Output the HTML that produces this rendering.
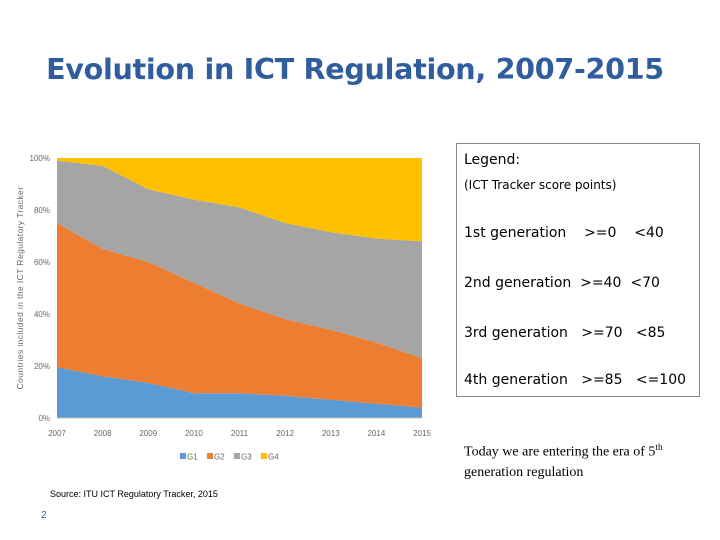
<!DOCTYPE html>
<html><head><meta charset="utf-8"><style>
body{margin:0;width:720px;height:540px;background:#fff;position:relative;overflow:hidden;font-family:"Liberation Sans",sans-serif}
.t{position:absolute;white-space:nowrap}
</style></head><body>
<div class="t" style="left:0;width:710px;text-align:center;top:52px;font-size:28.6px;font-weight:bold;color:#2f5d9e;font-family:'DejaVu Sans',sans-serif;letter-spacing:-0.3px">Evolution in ICT Regulation, 2007-2015</div>
<svg id="ch" width="720" height="540" style="position:absolute;left:0;top:0"></svg>
<div style="position:absolute;left:456px;top:143px;width:244px;height:254px;border:1px solid #8a8a8a;box-sizing:border-box;font-family:'DejaVu Sans',sans-serif;color:#000">
<div class="t" style="left:7px;top:8px;font-size:14px">Legend:</div>
<div class="t" style="left:7px;top:34px;font-size:12px">(ICT Tracker score points)</div>
<div class="t" style="left:7px;top:81px;font-size:14px">1st generation&nbsp;&nbsp;&nbsp;&nbsp;&gt;=0&nbsp;&nbsp;&nbsp;&nbsp;&lt;40</div>
<div class="t" style="left:7px;top:131px;font-size:14px">2nd generation&nbsp;&nbsp;&gt;=40&nbsp;&nbsp;&lt;70</div>
<div class="t" style="left:7px;top:181px;font-size:14px">3rd generation&nbsp;&nbsp;&nbsp;&gt;=70&nbsp;&nbsp;&nbsp;&lt;85</div>
<div class="t" style="left:7px;top:228px;font-size:14px">4th generation&nbsp;&nbsp;&nbsp;&gt;=85&nbsp;&nbsp;&nbsp;&lt;=100</div>
</div>
<div class="t" style="left:464px;top:437px;font-size:14px;font-family:'Liberation Serif',serif;line-height:20px">Today we are entering the era of 5<sup style="font-size:9px">th</sup><br>generation regulation</div>
<div class="t" style="left:50px;top:489px;font-size:9px">Source: ITU ICT Regulatory Tracker, 2015</div>
<div class="t" style="left:41px;top:510px;font-size:10px;color:#2f5d9e">2</div>
<script>
const years=[2007,2008,2009,2010,2011,2012,2013,2014,2015];
const g1=[19.5,16,13.5,9.5,9.5,8.5,7,5.5,4];
const g2=[55.5,49,46.5,42.5,34.5,29.5,27,23.5,19];
const g3=[24,32,28,32,37,37,37.5,40,45];
const g4=[1,3,12,16,19,25,28.5,31,32];
const seriesNames=["G1","G2","G3","G4"];
const colors=["#5b9bd5","#ed7d31","#a5a5a5","#ffc000"];
const yTicks=[0,20,40,60,80,100];
const svg=document.getElementById('ch');const NS='http://www.w3.org/2000/svg';
const X0=57,X1=422,Y0=418,Y1=158;
const xs=i=>X0+(X1-X0)*i/(years.length-1);
const ys=v=>Y0-(Y0-Y1)*v/100;
function mk(t,a){const e=document.createElementNS(NS,t);for(const k in a)e.setAttribute(k,a[k]);svg.appendChild(e);return e;}
const all=[g1,g2,g3,g4];let base=years.map(()=>0);
all.forEach((s,si)=>{
  const top=base.map((b,i)=>b+s[i]);
  let d=top.map((v,i)=>(i?'L':'M')+xs(i)+','+ys(v)).join('');
  for(let i=years.length-1;i>=0;i--)d+='L'+xs(i)+','+ys(base[i]);
  const p=mk('path',{d:d+'Z',fill:colors[si]});
  
  
  base=top;
});
mk('line',{x1:X0,x2:X1,y1:Y0,y2:Y0,stroke:'#bfbfbf'});
yTicks.forEach(v=>{const t=mk('text',{x:X0-7,y:ys(v)+3,'text-anchor':'end','font-size':8,fill:'#666','font-family':'Liberation Sans'});t.textContent=v+'%';

});
years.forEach((y,i)=>{const t=mk('text',{x:xs(i),y:436,'text-anchor':'middle','font-size':8,fill:'#666','font-family':'Liberation Sans'});t.textContent=y;

});
const yt=mk('text',{x:0,y:0,transform:'translate(23,288) rotate(-90)','text-anchor':'middle','font-size':8.5,fill:'#666','font-family':'Liberation Sans','letter-spacing':'0.4'});
yt.textContent='Countries included in the ICT Regulatory Tracker';


seriesNames.forEach((n,i)=>{const x=180+i*27;
const r=mk('rect',{x:x,y:453,width:6,height:6,fill:colors[i]});


const t=mk('text',{x:x+7,y:459.5,'font-size':8,fill:'#666','font-family':'Liberation Sans'});t.textContent=n;

});
</script>
</body></html>
